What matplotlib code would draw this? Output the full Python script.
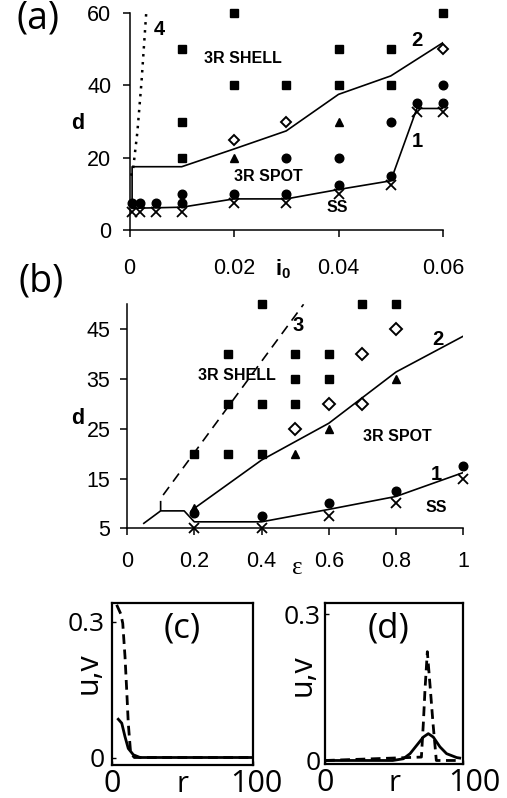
import matplotlib
matplotlib.use('Agg')
import matplotlib.pyplot as plt
import matplotlib.transforms as mtransforms

plt.rcParams['font.family'] = ['Liberation Sans', 'DejaVu Sans']
plt.rcParams['mathtext.fontset'] = 'custom'
plt.rcParams['mathtext.rm'] = 'Liberation Sans'
plt.rcParams['mathtext.bf'] = 'Liberation Sans:bold'

# ---------------- Panel (a): d vs i0 ----------------
a_square_i0 = [0.01, 0.01, 0.01, 0.02, 0.02, 0.03, 0.04, 0.04, 0.05, 0.05, 0.06]
a_square_d = [50, 30, 20, 60, 40, 40, 50, 40, 50, 40, 60]
a_diamond_i0 = [0.02, 0.03, 0.06]
a_diamond_d = [25, 30, 50]
a_triangle_i0 = [0.02, 0.04]
a_triangle_d = [20, 30]
a_circle_i0 = [0.0005, 0.002, 0.005, 0.01, 0.01, 0.02, 0.03, 0.03, 0.04, 0.04, 0.05, 0.05, 0.055, 0.06, 0.06]
a_circle_d = [7.5, 7.5, 7.5, 10, 7.5, 10, 20, 10, 20, 12.5, 30, 15, 35, 40, 35]
a_cross_i0 = [0.0005, 0.002, 0.005, 0.01, 0.02, 0.03, 0.04, 0.05, 0.055, 0.06]
a_cross_d = [5, 5, 5, 5, 7.5, 7.5, 10, 12.5, 32.5, 32.5]
a_line1_i0 = [0.0005, 0.01, 0.02, 0.03, 0.04, 0.05, 0.055, 0.06]
a_line1_d = [6, 6.3, 8.6, 8.6, 11.2, 13.6, 33.6, 33.6]
a_line2_i0 = [0.0005, 0.0005, 0.01, 0.02, 0.03, 0.04, 0.05, 0.06]
a_line2_d = [6, 17.5, 17.5, 22.4, 27.4, 37.5, 42.6, 51.8]
a_line4_i0 = [0.0003, 0.0007, 0.0015, 0.0023, 0.0032]
a_line4_d = [15, 17, 27, 41, 60]
a_xticks = [0, 0.02, 0.04, 0.06]
a_xticklabels = ['0', '0.02', '0.04', '0.06']
a_yticks = [0, 20, 40, 60]

# ---------------- Panel (b): d vs epsilon ----------------
b_square_eps = [0.2, 0.3, 0.3, 0.3, 0.4, 0.4, 0.4, 0.5, 0.5, 0.5, 0.6, 0.6, 0.7, 0.8]
b_square_d = [20, 40, 30, 20, 50, 30, 20, 40, 35, 30, 40, 35, 50, 50]
b_diamond_eps = [0.5, 0.6, 0.7, 0.7, 0.8]
b_diamond_d = [25, 30, 40, 30, 45]
b_triangle_eps = [0.2, 0.5, 0.6, 0.8]
b_triangle_d = [9, 20, 25, 35]
b_circle_eps = [0.2, 0.4, 0.6, 0.8, 1.0]
b_circle_d = [8, 7.5, 10, 12.5, 17.5]
b_cross_eps = [0.2, 0.4, 0.6, 0.8, 1.0]
b_cross_d = [5, 5, 7.5, 10, 15]
b_line1_eps = [0.05, 0.1, 0.17, 0.2, 0.4, 0.6, 0.8, 1.0]
b_line1_d = [6, 8.5, 8.5, 6.3, 6.3, 8.8, 11.4, 16.2]
b_line2_eps = [0.2, 0.4, 0.6, 0.8, 1.0]
b_line2_d = [9, 18.7, 26.1, 36.4, 43.6]
b_line3_eps = [0.1, 0.1, 0.525]
b_line3_d = [8.5, 11, 50]
b_xticks = [0, 0.2, 0.4, 0.6, 0.8, 1.0]
b_xticklabels = ['0', '0.2', '0.4', '0.6', '0.8', '1']
b_yticks = [5, 15, 25, 35, 45]

# ---------------- Panel (c) and (d): profiles u, v vs r ----------------
c_u_r = [4, 7.1, 9.4, 11.7, 15.3, 20, 30, 100]
c_u = [0.087, 0.076, 0.046, 0.020, 0.006, 0.0, 0.0, 0.0]
c_v_r = [3.5, 6.4, 7.8, 9.4, 10.6, 11.7, 13.4, 16, 100]
c_v = [0.338, 0.318, 0.297, 0.223, 0.149, 0.076, 0.009, 0.0, 0.0]
d_u_r = [0, 49, 56.6, 61.5, 66.3, 71.1, 74.7, 78.3, 83.1, 87.9, 95.2, 97.4]
d_u = [0.0, 0.0, 0.0035, 0.014, 0.031, 0.048, 0.055, 0.048, 0.028, 0.014, 0.006, 0.005]
d_v_r = [0, 69.7, 71.1, 72.3, 74, 76.2, 78.1, 80.5, 97]
d_v = [0.0, 0.007, 0.076, 0.145, 0.223, 0.145, 0.076, 0.0, 0.0]

W, H = 507, 798
fig = plt.figure(figsize=(W / 100, H / 100), dpi=100)


def axes_px(left, top, right, bottom):
    return fig.add_axes([left / W, 1 - bottom / H, (right - left) / W, (bottom - top) / H])


def style_ab(ax, xpad, ypad):
    for s in ['top', 'right']:
        ax.spines[s].set_visible(False)
    for s in ['left', 'bottom']:
        ax.spines[s].set_linewidth(1.1)
    ax.tick_params(axis='both', direction='out', length=5, width=1.1, labelsize=15.5)
    ax.tick_params(axis='x', pad=xpad)
    ax.tick_params(axis='y', pad=ypad)


mk = dict(color='black', linestyle='none', clip_on=False, zorder=3)
lab = dict(fontweight='bold', color='black', ha='center', va='center')

# ---- (a)
axA = axes_px(129.5, 13, 443, 230)
axA.set_xlim(0, 0.06)
axA.set_ylim(0, 60)
style_ab(axA, 15.0, 8.2)
axA.set_xticks(a_xticks)
axA.set_xticklabels(a_xticklabels)
axA.set_yticks(a_yticks)
axA.plot(a_line1_i0, a_line1_d, color='black', lw=1.2, zorder=2)
axA.plot(a_line2_i0, a_line2_d, color='black', lw=1.2, zorder=2)
axA.plot(a_line4_i0, a_line4_d, color='black', lw=1.8, linestyle=(0, (1, 2.2)), zorder=2)
axA.plot(a_square_i0, a_square_d, marker='s', ms=5.5, **mk)
axA.plot(a_circle_i0, a_circle_d, marker='o', ms=6.2, **mk)
axA.plot(a_triangle_i0, a_triangle_d, marker='^', ms=6, **mk)
axA.plot(a_diamond_i0, a_diamond_d, marker='D', ms=5.5, mfc='white', mec='black', mew=1.4, **mk)
axA.plot(a_cross_i0, a_cross_d, marker='x', ms=7, mew=1.3, **mk)
axA.text(0.0058, 55.3, '4', fontsize=14.5, **lab)
axA.text(0.055, 52.5, '2', fontsize=14.5, **lab)
axA.text(0.055, 24.6, '1', fontsize=14.5, **lab)
axA.text(0.0217, 47.5, '3R SHELL', fontsize=11.5, **lab)
axA.text(0.0265, 14.8, '3R SPOT', fontsize=11.5, **lab)
axA.text(0.0397, 6.1, 'SS', fontsize=11.5, **lab)
axA.set_ylabel('d', fontsize=15.5, fontweight='bold', rotation=0)
axA.yaxis.set_label_coords(-0.164, 0.493)
axA.yaxis.label.set_va('center')
axA.set_xlabel(r'$\mathbf{i}_{\mathbf{0}}$', fontsize=15.5)
axA.xaxis.set_label_coords(0.49, -0.18)
axA.xaxis.label.set_va('center')

# ---- (b)
axB = axes_px(127, 304.3, 463.3, 528.3)
axB.set_xlim(0, 1)
axB.set_ylim(5, 50)
style_ab(axB, 11.5, 7.0)
axB.set_xticks(b_xticks)
axB.set_xticklabels(b_xticklabels)
axB.set_yticks(b_yticks)
axB.plot(b_line1_eps, b_line1_d, color='black', lw=1.2, zorder=2)
axB.plot(b_line2_eps, b_line2_d, color='black', lw=1.2, zorder=2)
axB.plot(b_line3_eps, b_line3_d, color='black', lw=1.2, linestyle=(0, (6, 4)), zorder=2)
axB.plot(b_square_eps, b_square_d, marker='s', ms=5.8, **mk)
axB.plot(b_circle_eps, b_circle_d, marker='o', ms=6.2, **mk)
axB.plot(b_triangle_eps, b_triangle_d, marker='^', ms=6.2, **mk)
axB.plot(b_diamond_eps, b_diamond_d, marker='D', ms=6.2, mfc='white', mec='black', mew=1.4, **mk)
axB.plot(b_cross_eps, b_cross_d, marker='x', ms=7, mew=1.3, **mk)
axB.text(0.508, 45.7, '3', fontsize=14.5, **lab)
axB.text(0.923, 43.0, '2', fontsize=14.5, **lab)
axB.text(0.921, 15.9, '1', fontsize=14.5, **lab)
axB.text(0.921, 9.2, 'SS', fontsize=11.5, **lab)
axB.text(0.327, 35.6, '3R SHELL', fontsize=11.5, **lab)
axB.text(0.805, 23.5, '3R SPOT', fontsize=11.5, **lab)
axB.set_ylabel('d', fontsize=15.5, fontweight='bold', rotation=0)
axB.yaxis.set_label_coords(-0.147, 0.488)
axB.yaxis.label.set_va('center')
axB.set_xlabel('ε', fontsize=18, family=['Liberation Serif', 'DejaVu Serif'])
axB.xaxis.set_label_coords(0.505, -0.177)
axB.xaxis.label.set_va('center')

# ---- (c) and (d)
prof_font = ['Open Sans', 'DejaVu Sans']


def style_cd(ax, ypad):
    for s in ax.spines.values():
        s.set_linewidth(1.6)
    ax.set_xlim(0, 100)
    ax.set_xticks([0, 100])
    ax.set_xticklabels(['0', '100'])
    ax.set_yticks([0, 0.3])
    ax.set_yticklabels(['0', '0.3'])
    ax.tick_params(axis='both', direction='in', length=3, width=1)
    ax.tick_params(axis='x', labelsize=22, pad=3)
    ax.tick_params(axis='y', labelsize=19, pad=ypad)
    for t in ax.get_xticklabels() + ax.get_yticklabels():
        t.set_family(prof_font)
    ax.set_xlabel('r', fontsize=21, family=prof_font)
    ax.xaxis.set_label_coords(0.5, -0.03)
    ax.set_ylabel('u,v', fontsize=22, family=prof_font)
    ax.yaxis.label.set_va('center')


axC = axes_px(111.7, 602.7, 253.3, 765)
axC.set_ylim(-0.0166, 0.3427)
style_cd(axC, 5.0)
axC.yaxis.set_label_coords(-0.16, 0.567)
axC.plot(c_u_r, c_u, color='black', lw=2.0, solid_capstyle='butt')
axC.plot(c_v_r, c_v, color='black', lw=2.0, linestyle=(0, (3.5, 2)))
axD = axes_px(325, 602.7, 463.3, 764)
axD.set_ylim(-0.0072, 0.3234)
style_cd(axD, 3.0)
axD.yaxis.set_label_coords(-0.16, 0.55)
axD.plot(d_u_r, d_u, color='black', lw=2.0)
axD.plot(d_v_r, d_v, color='black', lw=2.0, linestyle=(0, (3.5, 2)))

for ax, dx in ((axC, 3.5), (axD, 11.5)):
    lbl = ax.get_xticklabels()[1]
    lbl.set_transform(lbl.get_transform() + mtransforms.ScaledTranslation(dx / 100, 0, fig.dpi_scale_trans))

fig.text(38 / W, 1 - 19 / H, '(a)', fontsize=27, family=prof_font, ha='center', va='center')
fig.text(41 / W, 1 - 282 / H, '(b)', fontsize=27, family=prof_font, ha='center', va='center')
axC.text(0.5, 0.84, '(c)', fontsize=25, family=prof_font, ha='center', va='center', transform=axC.transAxes)
axD.text(0.46, 0.84, '(d)', fontsize=25, family=prof_font, ha='center', va='center', transform=axD.transAxes)

fig.savefig('out.png', dpi=100)
